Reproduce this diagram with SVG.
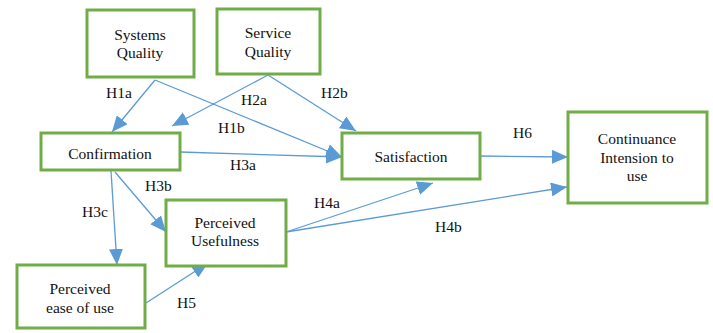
<svg xmlns="http://www.w3.org/2000/svg" width="713" height="333" viewBox="0 0 713 333">
<style>
.box{fill:#fff;stroke:#70AD47;stroke-width:3}
text{font-family:'Liberation Serif',serif;font-size:15.5px;fill:#111}
.t{text-anchor:middle}
.c{stroke:#5B9BD5;stroke-width:1.3;fill:none;marker-end:url(#ah)}
</style>
<defs>
<marker id="ah" markerUnits="userSpaceOnUse" markerWidth="16" markerHeight="14" refX="16" refY="7" orient="auto">
<path d="M0,0 L16,7 L0,14 Z" fill="#5B9BD5"/>
</marker>
</defs>
<rect width="713" height="333" fill="#fff"/>
<g id="connectors">
<path class="c" d="M155,80 L112,132"/>
<path class="c" d="M155,80 L342,157"/>
<path class="c" d="M268,75 L172,126"/>
<path class="c" d="M268,75 L356,131"/>
<path class="c" d="M180,152 L342,157"/>
<path class="c" d="M115,172 L166,232"/>
<path class="c" d="M111,171 L117,265"/>
<path class="c" d="M146,303 L208,263"/>
<path class="c" d="M286,232 L433,183"/>
<path class="c" d="M286,232 L567,187"/>
<path class="c" d="M480,156 L568,157"/>
</g>
<g id="systems-quality"><rect class="box" x="87" y="10" width="107" height="67"/><text class="t" x="140" y="40">Systems</text><text class="t" x="140" y="58">Quality</text></g>
<g id="service-quality"><rect class="box" x="217" y="9" width="103" height="65"/><text class="t" x="268" y="38">Service</text><text class="t" x="268" y="57">Quality</text></g>
<g id="confirmation"><rect class="box" x="41" y="133" width="139" height="37"/><text class="t" x="110" y="159">Confirmation</text></g>
<g id="satisfaction"><rect class="box" x="342" y="133" width="138" height="46"/><text class="t" x="411" y="162">Satisfaction</text></g>
<g id="continuance"><rect class="box" x="568" y="112" width="139" height="91"/><text class="t" x="637" y="144">Continuance</text><text class="t" x="637" y="163">Intension to</text><text class="t" x="637" y="181">use</text></g>
<g id="perceived-usefulness"><rect class="box" x="166" y="200" width="120" height="66"/><text class="t" x="225" y="228">Perceived</text><text class="t" x="225" y="246">Usefulness</text></g>
<g id="perceived-ease"><rect class="box" x="17" y="265" width="128" height="63"/><text class="t" x="80" y="294">Perceived</text><text class="t" x="80" y="313">ease of use</text></g>
<g id="labels">
<text x="106" y="98">H1a</text>
<text x="241" y="105">H2a</text>
<text x="321" y="98">H2b</text>
<text x="218" y="133">H1b</text>
<text x="230" y="170">H3a</text>
<text x="513" y="138">H6</text>
<text x="145" y="191">H3b</text>
<text x="82" y="217">H3c</text>
<text x="314" y="208">H4a</text>
<text x="435" y="232">H4b</text>
<text x="177" y="308">H5</text>
</g>
</svg>
